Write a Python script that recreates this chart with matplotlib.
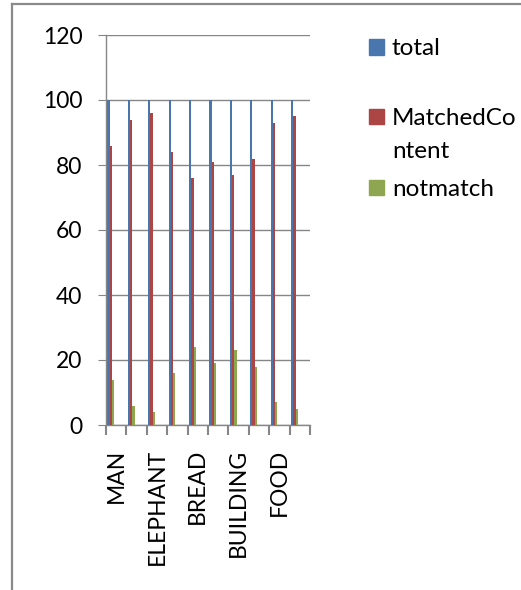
import numpy as np
import matplotlib
matplotlib.use('Agg')
import matplotlib.pyplot as plt
from matplotlib.lines import Line2D
from matplotlib.patches import Rectangle

# Dados (10 categorias, apenas uma a cada duas tem nome exibido)
tick_labels = ['MAN', 'ELEPHANT', 'BREAD', 'BUILDING', 'FOOD']
total = [100, 100, 100, 100, 100, 100, 100, 100, 100, 100]
matched = [86, 94, 96, 84, 76, 81, 77, 82, 93, 95]
notmatch = [14, 6, 4, 16, 24, 19, 23, 18, 7, 5]
series_names = ['total', 'MatchedCo\nntent', 'notmatch']

colors = ['#4A76AE', '#AC4644', '#8DA64F']
grid_c = '#868686'

plt.rcParams['font.family'] = ['Lato', 'DejaVu Sans']

fig = plt.figure(figsize=(5.21, 5.90), dpi=100)
ax = fig.add_axes([106/521, 1-425/590, 204/521, 390/590])

n = len(total)
x = np.arange(n)
w = 0.11
for k, vals in enumerate([total, matched, notmatch]):
    ax.bar(x + 0.07 + k*w, vals, width=w, align='edge', color=colors[k],
           linewidth=0, zorder=3)

ax.set_xlim(0, n)
ax.set_ylim(0, 120)
ax.set_yticks(np.arange(0, 121, 20))
ax.grid(axis='y', color=grid_c, linewidth=1.0, zorder=0)
ax.tick_params(axis='y', direction='out', length=6, width=0.8, color=grid_c,
               labelsize=16.5, pad=11, labelcolor='black')

# ticks nas bordas das categorias, rotulos no centro (um sim, um nao)
ax.set_xticks(np.arange(0, n + 1))
ax.set_xticklabels([])
ax.set_xticks(np.arange(0, n, 2) + 0.5, minor=True)
ax.set_xticklabels(tick_labels, minor=True, rotation=90, fontsize=16.5)
ax.tick_params(axis='x', which='major', direction='out', length=7.5, width=1.5,
               color=grid_c)
ax.tick_params(axis='x', which='minor', length=0, pad=17)

for s in ['top', 'right']:
    ax.spines[s].set_visible(False)
for s in ['left', 'bottom']:
    ax.spines[s].set_color(grid_c)
    ax.spines[s].set_linewidth(1.0)
ax.spines['left'].set_zorder(4)

# Legenda desenhada a mao (quadrado + texto)
leg_y = [47, 117, 188]
for k, name in enumerate(series_names):
    yc = 1 - leg_y[k]/590
    fig.patches.append(Rectangle((369/521, yc - 7.5/590), 15/521, 15/590,
                                 transform=fig.transFigure, color=colors[k]))
    fig.text(392/521, yc + 9/590, name, fontsize=17.5, va='top', ha='left',
             linespacing=1.7)

# moldura cinza
fig.add_artist(Line2D([12/521, 12/521], [0, 1-4/590], color='#8a8a8a', lw=1.6,
                      transform=fig.transFigure))
fig.add_artist(Line2D([12/521, 1.01], [1-4/590, 1-4/590], color='#8a8a8a', lw=1.6,
                      transform=fig.transFigure))

fig.savefig('out.png', dpi=100)
